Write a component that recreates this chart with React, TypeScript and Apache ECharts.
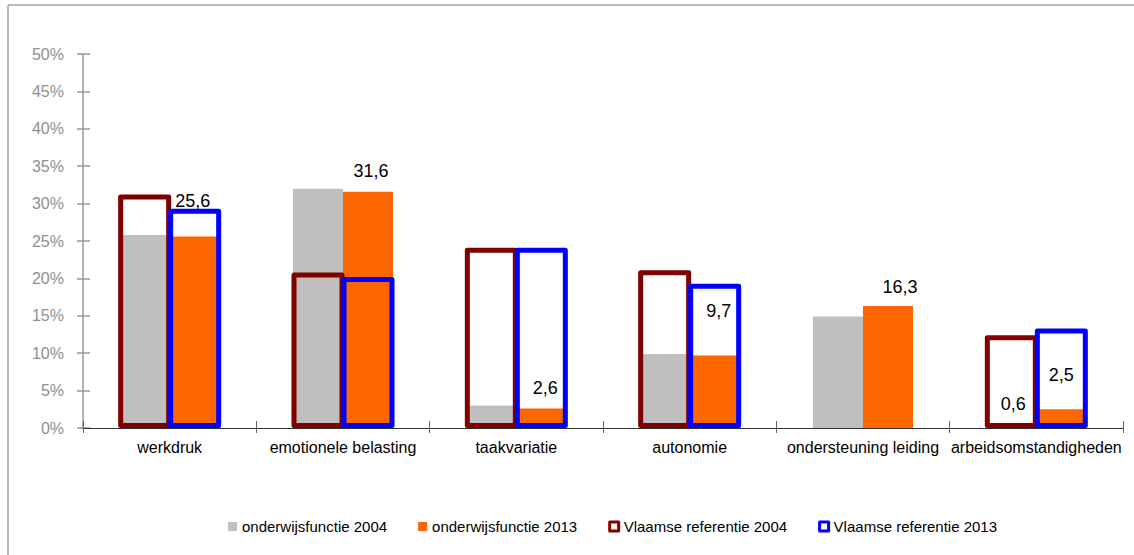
import React, { useEffect, useRef } from "react";
import * as echarts from "echarts";

const categories = [
  "werkdruk",
  "emotionele belasting",
  "taakvariatie",
  "autonomie",
  "ondersteuning leiding",
  "arbeidsomstandigheden",
];
const onderwijs2004 = [25.8, 32.0, 3.0, 9.9, 14.9, 0.6];
const onderwijs2013 = [25.6, 31.6, 2.6, 9.7, 16.3, 2.5];
const vlaams2004: (number | null)[] = [31.2, 20.8, 24.1, 21.1, null, 12.4];
const vlaams2013: (number | null)[] = [29.3, 20.2, 24.1, 19.3, null, 13.3];
const yTicks = { min: 0, max: 50, interval: 5 };
const seriesNames = [
  "onderwijsfunctie 2004",
  "onderwijsfunctie 2013",
  "Vlaamse referentie 2004",
  "Vlaamse referentie 2013",
];

// label placement (style, not data)
const labels2013Offsets: [number, number][] = [
  [-2, -22],
  [3, -7],
  [4, -7],
  [4, -30],
  [12, -5],
  [0, -20],
];
const labels2004Shown = [false, false, false, false, false, true];
const labels2004Offsets: [number, number][] = [
  [0, 0],
  [0, 0],
  [0, 0],
  [0, 0],
  [0, 0],
  [2, -6],
];

const FONT = "'Liberation Sans', Arial, sans-serif";
const fmt = (v: number) => v.toFixed(1).replace(".", ",");

export default function App() {
  const ref = useRef<HTMLDivElement>(null);
  useEffect(() => {
    if (!ref.current) return;
    const chart = echarts.init(ref.current, undefined, { renderer: "svg" });
    const labelBase = {
      position: "top",
      distance: 5,
      color: "#000",
      fontSize: 18,
      fontFamily: FONT,
      formatter: (p: any) => fmt(p.value),
    };
    chart.setOption({
      animation: false,
      backgroundColor: "#fff",
      grid: { left: 83, right: 11, top: 54, bottom: 127, containLabel: false },
      graphic: [
        {
          type: "line",
          shape: { x1: 8, y1: 5, x2: 1134, y2: 5 },
          style: { stroke: "#a6a6a6", lineWidth: 1.5 },
          silent: true,
        },
        {
          type: "line",
          shape: { x1: 8, y1: 5, x2: 8, y2: 555 },
          style: { stroke: "#a6a6a6", lineWidth: 1.5 },
          silent: true,
        },
      ],
      legend: {
        left: 223,
        top: 514,
        itemWidth: 9,
        itemHeight: 9,
        itemGap: 31,
        icon: "rect",
        textStyle: { color: "#000", fontSize: 15, fontFamily: FONT },
        data: [
          { name: seriesNames[0], itemStyle: { color: "#BFBFBF" } },
          { name: seriesNames[1], itemStyle: { color: "#FF6600" } },
          {
            name: seriesNames[2],
            itemStyle: { color: "#fff", borderColor: "#800000", borderWidth: 3 },
          },
          {
            name: seriesNames[3],
            itemStyle: { color: "#fff", borderColor: "#0000FF", borderWidth: 3 },
          },
        ],
      },
      xAxis: [
        {
          type: "category",
          data: categories,
          position: "bottom",
          axisLine: { show: true, lineStyle: { color: "#333", width: 1 } },
          axisTick: { show: true, length: 5, lineStyle: { color: "#666" } },
          axisLabel: {
            interval: 0,
            color: "#000",
            fontSize: 16,
            fontFamily: FONT,
            margin: 11,
          },
          z: 10,
        },
        {
          type: "category",
          data: categories,
          position: "bottom",
          axisLine: { show: false },
          axisTick: { show: true, inside: true, length: 7, lineStyle: { color: "#666" } },
          axisLabel: { show: false },
          z: 10,
        },
      ],
      yAxis: [
        {
          type: "value",
          min: yTicks.min,
          max: yTicks.max,
          interval: yTicks.interval,
          axisLine: { show: true, lineStyle: { color: "#999", width: 1.5 } },
          axisTick: { show: true, length: 6, lineStyle: { color: "#999", width: 1.5 } },
          splitLine: { show: false },
          axisLabel: {
            formatter: "{value}%",
            color: "#8f8f8f",
            fontSize: 16,
            fontFamily: FONT,
            margin: 19,
          },
        },
        {
          type: "value",
          min: yTicks.min,
          max: yTicks.max,
          interval: yTicks.interval,
          position: "left",
          axisLine: { show: false },
          axisTick: { show: true, inside: true, length: 7, lineStyle: { color: "#999", width: 1.5 } },
          splitLine: { show: false },
          axisLabel: { show: false },
        },
      ],
      series: [
        {
          name: seriesNames[0],
          type: "bar",
          xAxisIndex: 0,
          yAxisIndex: 0,
          barWidth: 50,
          barGap: "0%",
          itemStyle: { color: "#BFBFBF" },
          data: onderwijs2004.map((v, i) => ({
            value: v,
            label: {
              ...labelBase,
              show: labels2004Shown[i],
              offset: labels2004Offsets[i],
            },
          })),
        },
        {
          name: seriesNames[1],
          type: "bar",
          xAxisIndex: 0,
          yAxisIndex: 0,
          barWidth: 50,
          barGap: "0%",
          itemStyle: { color: "#FF6600" },
          data: onderwijs2013.map((v, i) => ({
            value: v,
            label: { ...labelBase, show: true, offset: labels2013Offsets[i] },
          })),
        },
        {
          name: seriesNames[2],
          type: "bar",
          xAxisIndex: 1,
          yAxisIndex: 0,
          barWidth: 53,
          barGap: "-5.66%",
          z: 3,
          itemStyle: {
            color: "rgba(255,255,255,0)",
            borderColor: "#800000",
            borderWidth: 5,
            borderJoin: "round",
          },
          data: vlaams2004,
        },
        {
          name: seriesNames[3],
          type: "bar",
          xAxisIndex: 1,
          yAxisIndex: 0,
          barWidth: 53,
          barGap: "-5.66%",
          z: 4,
          itemStyle: {
            color: "rgba(255,255,255,0)",
            borderColor: "#0000FF",
            borderWidth: 5,
            borderJoin: "round",
          },
          data: vlaams2013,
        },
      ],
    });
    return () => chart.dispose();
  }, []);
  return (
    <div
      ref={ref}
      style={{ position: "fixed", left: 0, top: 0, width: 1134, height: 555 }}
    />
  );
}
